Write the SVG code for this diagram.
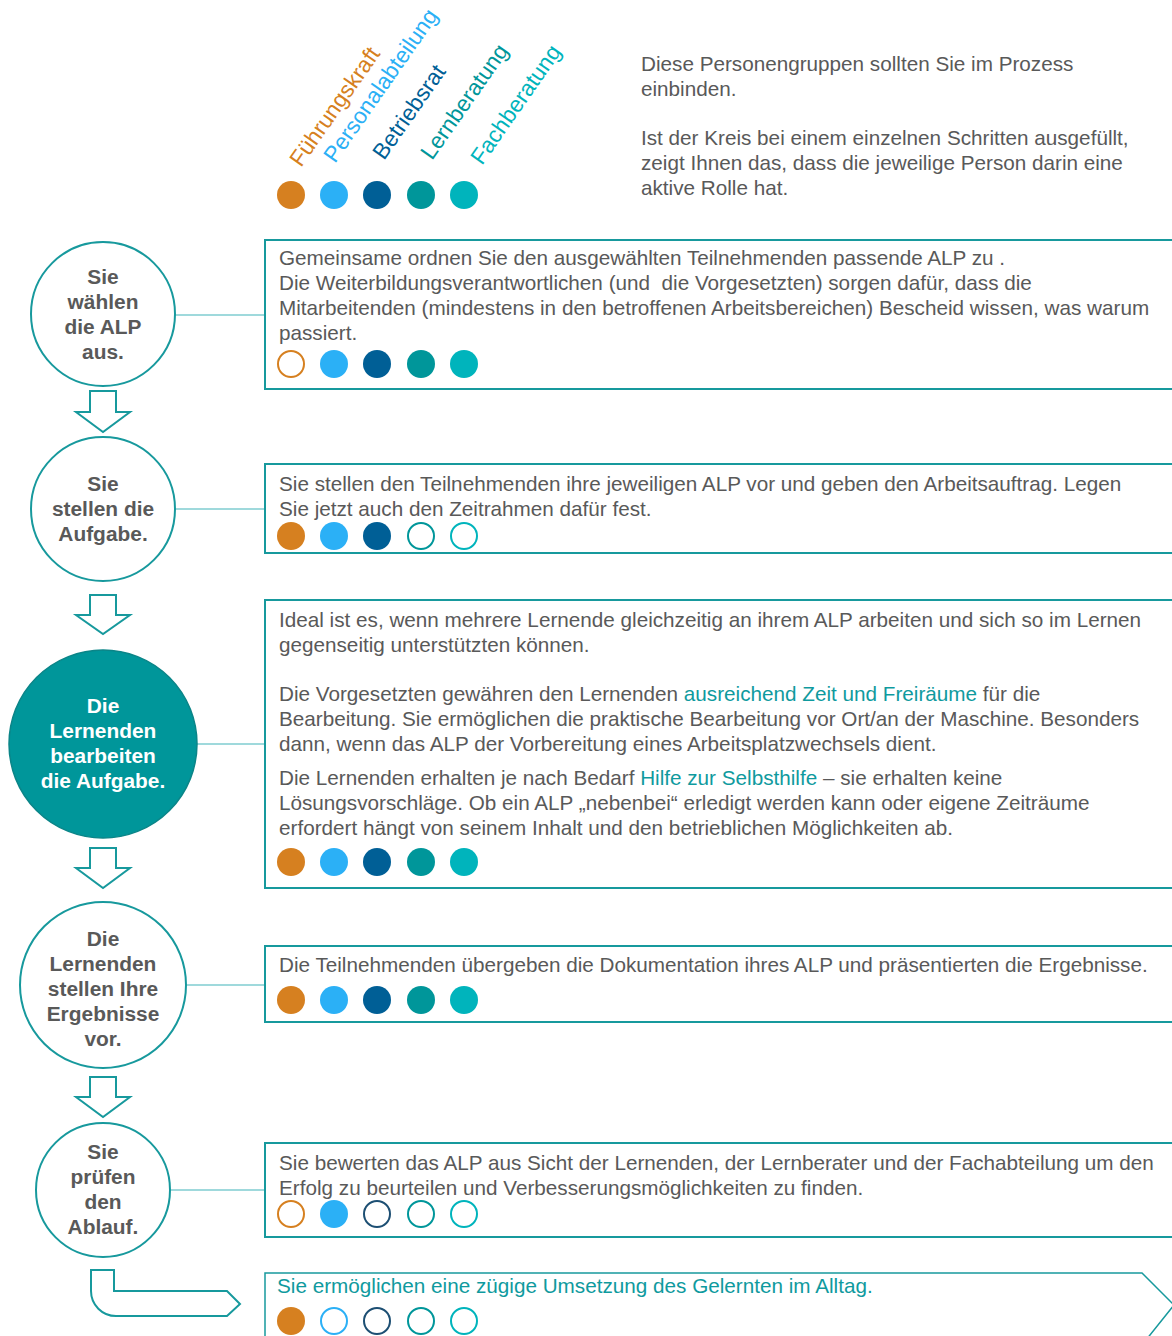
<svg xmlns="http://www.w3.org/2000/svg" width="1172" height="1336" viewBox="0 0 1172 1336">
<style>
.bg{fill:#ffffff}
.t{font-family:"Liberation Sans",Arial,sans-serif;font-size:20.7px;fill:#595959}
.hl{fill:#0f9a9e}
.ct{font-family:"Liberation Sans",Arial,sans-serif;font-size:20.9px;font-weight:bold;fill:#595959;text-anchor:middle}
.cw{fill:#ffffff}
.lbl{font-family:"Liberation Sans",Arial,sans-serif;font-size:22.6px}
.node{fill:#ffffff;stroke:#17999d;stroke-width:2}
.nodef{fill:#00969a;stroke:#0b8588;stroke-width:1.5}
.box{fill:#ffffff;stroke:#17999d;stroke-width:2}
.conn{stroke:#7fcdd0;stroke-width:1.5;fill:none}
.arr{fill:#ffffff;stroke:#17999d;stroke-width:2;stroke-linejoin:miter}
.o{fill:#d68020}.lb{fill:#2bb0f6}.db{fill:#005f96}.te{fill:#00969a}.cy{fill:#00b4bc}
.oo{fill:#fff;stroke:#d68020;stroke-width:2}.olb{fill:#fff;stroke:#2bb0f6;stroke-width:2}.odb{fill:#fff;stroke:#1d4f73;stroke-width:2}.ote{fill:#fff;stroke:#00969a;stroke-width:2}.ocy{fill:#fff;stroke:#00b4bc;stroke-width:2}
</style>
<rect class="bg" x="0" y="0" width="1172" height="1336"/>

<g id="legend">
  <text class="lbl" fill="#d68020" transform="translate(301,168) rotate(-55)">Führungskraft</text>
  <text class="lbl" fill="#2bb0f6" transform="translate(335,164) rotate(-55)">Personalabteilung</text>
  <text class="lbl" fill="#005f96" transform="translate(384,161) rotate(-55)">Betriebsrat</text>
  <text class="lbl" fill="#00969a" transform="translate(432,161) rotate(-55)">Lernberatung</text>
  <text class="lbl" fill="#00b4bc" transform="translate(482,166) rotate(-55)">Fachberatung</text>
  <circle class="o" cx="291" cy="195" r="14"/>
  <circle class="lb" cx="334" cy="195" r="14"/>
  <circle class="db" cx="377" cy="195" r="14"/>
  <circle class="te" cx="421" cy="195" r="14"/>
  <circle class="cy" cx="464" cy="195" r="14"/>
  <text class="t" x="641" y="71">Diese Personengruppen sollten Sie im Prozess</text>
  <text class="t" x="641" y="96">einbinden.</text>
  <text class="t" x="641" y="145">Ist der Kreis bei einem einzelnen Schritten ausgefüllt,</text>
  <text class="t" x="641" y="170">zeigt Ihnen das, dass die jeweilige Person darin eine</text>
  <text class="t" x="641" y="195">aktive Rolle hat.</text>
</g>

<g id="connectors">
  <line class="conn" x1="175" y1="315" x2="265" y2="315"/>
  <line class="conn" x1="175" y1="509" x2="265" y2="509"/>
  <line class="conn" x1="197" y1="744" x2="265" y2="744"/>
  <line class="conn" x1="186" y1="985" x2="265" y2="985"/>
  <line class="conn" x1="170" y1="1190" x2="265" y2="1190"/>
  <path class="arr" d="M90,391 H116 V412 H130 L103,432 L76,412 H90 Z"/>
  <path class="arr" d="M90,595 H116 V615 H130 L103,634 L76,615 H90 Z"/>
  <path class="arr" d="M90,848 H116 V868 H130 L103,888 L76,868 H90 Z"/>
  <path class="arr" d="M90,1077 H116 V1097 H130 L103,1117 L76,1097 H90 Z"/>
  <path class="arr" d="M91,1270 H114 V1291 H227 L240,1304 L227,1316 H116 A25,25 0 0 1 91,1291 Z"/>
</g>

<g id="step1">
  <circle class="node" cx="103" cy="314" r="72"/>
  <text class="ct" x="103" y="284">Sie</text>
  <text class="ct" x="103" y="309">wählen</text>
  <text class="ct" x="103" y="334">die ALP</text>
  <text class="ct" x="103" y="359">aus.</text>
</g>
<g id="box1">
  <rect class="box" x="265" y="240" width="930" height="149"/>
  <text class="t" x="279" y="265">Gemeinsame ordnen Sie den ausgewählten Teilnehmenden passende ALP zu .</text>
  <text class="t" x="279" y="290" xml:space="preserve">Die Weiterbildungsverantwortlichen (und  die Vorgesetzten) sorgen dafür, dass die</text>
  <text class="t" x="279" y="315">Mitarbeitenden (mindestens in den betroffenen Arbeitsbereichen) Bescheid wissen, was warum</text>
  <text class="t" x="279" y="340">passiert.</text>
  <circle class="oo" cx="291" cy="364" r="13"/>
  <circle class="lb" cx="334" cy="364" r="14"/>
  <circle class="db" cx="377" cy="364" r="14"/>
  <circle class="te" cx="421" cy="364" r="14"/>
  <circle class="cy" cx="464" cy="364" r="14"/>
</g>

<g id="step2">
  <circle class="node" cx="103" cy="509" r="72"/>
  <text class="ct" x="103" y="491">Sie</text>
  <text class="ct" x="103" y="516">stellen die</text>
  <text class="ct" x="103" y="541">Aufgabe.</text>
</g>
<g id="box2">
  <rect class="box" x="265" y="464" width="930" height="89"/>
  <text class="t" x="279" y="491">Sie stellen den Teilnehmenden ihre jeweiligen ALP vor und geben den Arbeitsauftrag. Legen</text>
  <text class="t" x="279" y="516">Sie jetzt auch den Zeitrahmen dafür fest.</text>
  <circle class="o" cx="291" cy="536" r="14"/>
  <circle class="lb" cx="334" cy="536" r="14"/>
  <circle class="db" cx="377" cy="536" r="14"/>
  <circle class="ote" cx="421" cy="536" r="13"/>
  <circle class="ocy" cx="464" cy="536" r="13"/>
</g>

<g id="step3">
  <circle class="nodef" cx="103" cy="744" r="94"/>
  <text class="ct cw" x="103" y="713">Die</text>
  <text class="ct cw" x="103" y="738">Lernenden</text>
  <text class="ct cw" x="103" y="763">bearbeiten</text>
  <text class="ct cw" x="103" y="788">die Aufgabe.</text>
</g>
<g id="box3">
  <rect class="box" x="265" y="600" width="930" height="288"/>
  <text class="t" x="279" y="627">Ideal ist es, wenn mehrere Lernende gleichzeitig an ihrem ALP arbeiten und sich so im Lernen</text>
  <text class="t" x="279" y="652">gegenseitig unterstützten können.</text>
  <text class="t" x="279" y="701">Die Vorgesetzten gewähren den Lernenden <tspan class="hl">ausreichend Zeit und Freiräume</tspan> für die</text>
  <text class="t" x="279" y="726">Bearbeitung. Sie ermöglichen die praktische Bearbeitung vor Ort/an der Maschine. Besonders</text>
  <text class="t" x="279" y="751">dann, wenn das ALP der Vorbereitung eines Arbeitsplatzwechsels dient.</text>
  <text class="t" x="279" y="785">Die Lernenden erhalten je nach Bedarf <tspan class="hl">Hilfe zur Selbsthilfe</tspan> – sie erhalten keine</text>
  <text class="t" x="279" y="810">Lösungsvorschläge. Ob ein ALP „nebenbei“ erledigt werden kann oder eigene Zeiträume</text>
  <text class="t" x="279" y="835">erfordert hängt von seinem Inhalt und den betrieblichen Möglichkeiten ab.</text>
  <circle class="o" cx="291" cy="862" r="14"/>
  <circle class="lb" cx="334" cy="862" r="14"/>
  <circle class="db" cx="377" cy="862" r="14"/>
  <circle class="te" cx="421" cy="862" r="14"/>
  <circle class="cy" cx="464" cy="862" r="14"/>
</g>

<g id="step4">
  <circle class="node" cx="103" cy="985" r="83"/>
  <text class="ct" x="103" y="946">Die</text>
  <text class="ct" x="103" y="971">Lernenden</text>
  <text class="ct" x="103" y="996">stellen Ihre</text>
  <text class="ct" x="103" y="1021">Ergebnisse</text>
  <text class="ct" x="103" y="1046">vor.</text>
</g>
<g id="box4">
  <rect class="box" x="265" y="946" width="930" height="76"/>
  <text class="t" x="279" y="972">Die Teilnehmenden übergeben die Dokumentation ihres ALP und präsentierten die Ergebnisse.</text>
  <circle class="o" cx="291" cy="1000" r="14"/>
  <circle class="lb" cx="334" cy="1000" r="14"/>
  <circle class="db" cx="377" cy="1000" r="14"/>
  <circle class="te" cx="421" cy="1000" r="14"/>
  <circle class="cy" cx="464" cy="1000" r="14"/>
</g>

<g id="step5">
  <circle class="node" cx="103" cy="1190" r="67"/>
  <text class="ct" x="103" y="1159">Sie</text>
  <text class="ct" x="103" y="1184">prüfen</text>
  <text class="ct" x="103" y="1209">den</text>
  <text class="ct" x="103" y="1234">Ablauf.</text>
</g>
<g id="box5">
  <rect class="box" x="265" y="1143" width="930" height="94"/>
  <text class="t" x="279" y="1170">Sie bewerten das ALP aus Sicht der Lernenden, der Lernberater und der Fachabteilung um den</text>
  <text class="t" x="279" y="1195">Erfolg zu beurteilen und Verbesserungsmöglichkeiten zu finden.</text>
  <circle class="oo" cx="291" cy="1214" r="13"/>
  <circle class="lb" cx="334" cy="1214" r="14"/>
  <circle class="odb" cx="377" cy="1214" r="13"/>
  <circle class="ote" cx="421" cy="1214" r="13"/>
  <circle class="ocy" cx="464" cy="1214" r="13"/>
</g>

<g id="box6">
  <path d="M265,1345 V1273 H1142 L1174,1305 L1142,1345" fill="#ffffff" stroke="#17999d" stroke-width="1.5"/>
  <text class="t hl" x="277" y="1293">Sie ermöglichen eine zügige Umsetzung des Gelernten im Alltag.</text>
  <circle class="o" cx="291" cy="1321" r="14"/>
  <circle class="olb" cx="334" cy="1321" r="13"/>
  <circle class="odb" cx="377" cy="1321" r="13"/>
  <circle class="ote" cx="421" cy="1321" r="13"/>
  <circle class="ocy" cx="464" cy="1321" r="13"/>
</g>
</svg>
